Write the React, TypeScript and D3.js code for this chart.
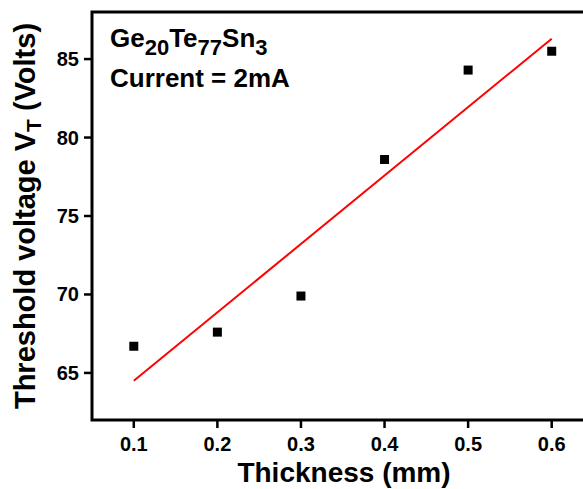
import React from "react";
import * as d3 from "d3";

const thickness = [0.1, 0.2, 0.3, 0.4, 0.5, 0.6];
const voltage = [66.7, 67.6, 69.9, 78.6, 84.3, 85.5];
const fitX = [0.1, 0.6];
const fitY = [64.5, 86.3];
const xTicks = [0.1, 0.2, 0.3, 0.4, 0.5, 0.6];
const yTicks = [65, 70, 75, 80, 85];

const W = 583;
const H = 489;
const FONT = "'Liberation Sans', Arial, sans-serif";

export default function App() {
  const left = 92, top = 12, bottom = 420, right = 593.5;
  const x = d3.scaleLinear().domain([0.05, 0.65]).range([left, right]);
  const y = d3.scaleLinear().domain([62, 88]).range([bottom, top]);
  const line = d3.line<number>().x((_, i) => x(fitX[i])).y((d) => y(d));
  const sq = 9;
  return (
    <div style={{ position: "absolute", left: 0, top: 0, width: W, height: H, background: "#fff" }}>
      <svg width={W} height={H} style={{ display: "block" }} fontFamily={FONT} fontWeight="bold">
        <rect x={0} y={0} width={W} height={H} fill="#fff" />
        {/* frame */}
        <path d={`M${right},${top}H${left}V${bottom}H${right}`} fill="none" stroke="#000" strokeWidth={3} />
        {/* x ticks */}
        {xTicks.map((t) => (
          <g key={"x" + t}>
            <line x1={x(t)} x2={x(t)} y1={bottom} y2={bottom + 8} stroke="#000" strokeWidth={2.5} />
            <text x={x(t)} y={bottom + 31} textAnchor="middle" fontSize={20} fill="#000">
              {t.toFixed(1)}
            </text>
          </g>
        ))}
        {/* y ticks */}
        {yTicks.map((t) => (
          <g key={"y" + t}>
            <line x1={left - 8} x2={left} y1={y(t)} y2={y(t)} stroke="#000" strokeWidth={2.5} />
            <text x={left - 13} y={y(t) + 7} textAnchor="end" fontSize={20} fill="#000">
              {t}
            </text>
          </g>
        ))}
        {/* fit line */}
        <path d={line(fitY) || ""} fill="none" stroke="#ff0000" strokeWidth={2} />
        {/* points */}
        {thickness.map((t, i) => (
          <rect key={"p" + i} x={x(t) - sq / 2} y={y(voltage[i]) - sq / 2} width={sq} height={sq} fill="#000" />
        ))}
        {/* annotation */}
        <text x={110} y={47} fontSize={26} fill="#000">
          <tspan>Ge</tspan>
          <tspan dy={8} fontSize={22}>20</tspan>
          <tspan dy={-8}>Te</tspan>
          <tspan dy={8} fontSize={22}>77</tspan>
          <tspan dy={-8}>Sn</tspan>
          <tspan dy={8} fontSize={22}>3</tspan>
        </text>
        <text x={110} y={87} fontSize={26} fill="#000">
          Current = 2mA
        </text>
        {/* axis titles */}
        <text x={344} y={482} textAnchor="middle" fontSize={28} fill="#000">
          Thickness (mm)
        </text>
        <text transform={`translate(35,${(top + bottom) / 2}) rotate(-90)`} textAnchor="middle" fontSize={29} fill="#000">
          <tspan>Threshold voltage V</tspan>
          <tspan dy={6} fontSize={21}>T</tspan>
          <tspan dy={-6}> (Volts)</tspan>
        </text>
      </svg>
    </div>
  );
}
